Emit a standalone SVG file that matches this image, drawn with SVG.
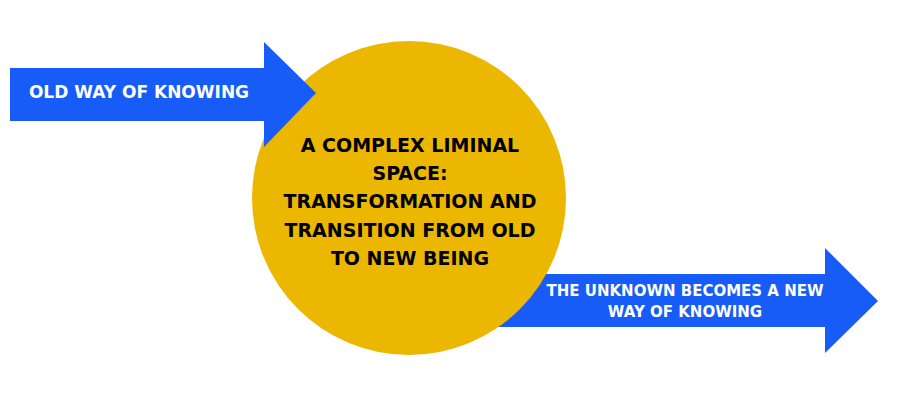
<svg xmlns="http://www.w3.org/2000/svg" width="899" height="412" viewBox="0 0 899 412">
<style>
.arrow{fill:#175cf6}
.circle{fill:#ebb700}
.wt{fill:#ffffff;font-family:"DejaVu Sans",sans-serif;font-weight:bold;text-anchor:middle}
.bt{fill:#000000;font-family:"DejaVu Sans",sans-serif;font-weight:bold;text-anchor:middle;font-size:19px}
</style>
<rect width="899" height="412" fill="#ffffff"/>
<g id="connectors">
<polygon id="arrow-out" class="arrow" points="470,274 825,274 825,248 878,301 825,353 825,327 470,327"/>
</g>
<g id="liminal-space">
<circle class="circle" cx="409" cy="198" r="157"/>
<text class="bt" x="410" y="152">A COMPLEX LIMINAL</text>
<text class="bt" x="410" y="180">SPACE:</text>
<text class="bt" x="410" y="208">TRANSFORMATION AND</text>
<text class="bt" x="410" y="237">TRANSITION FROM OLD</text>
<text class="bt" x="410" y="265">TO NEW BEING</text>
</g>
<g id="old-way">
<polygon class="arrow" points="10,68 264,68 264,42 316,93 264,147 264,121 10,121"/>
<text class="wt" x="139" y="98" font-size="17">OLD WAY OF KNOWING</text>
</g>
<g id="new-way">
<text class="wt" x="685" y="296" font-size="15">THE UNKNOWN BECOMES A NEW</text>
<text class="wt" x="685" y="317" font-size="15">WAY OF KNOWING</text>
</g>
</svg>
